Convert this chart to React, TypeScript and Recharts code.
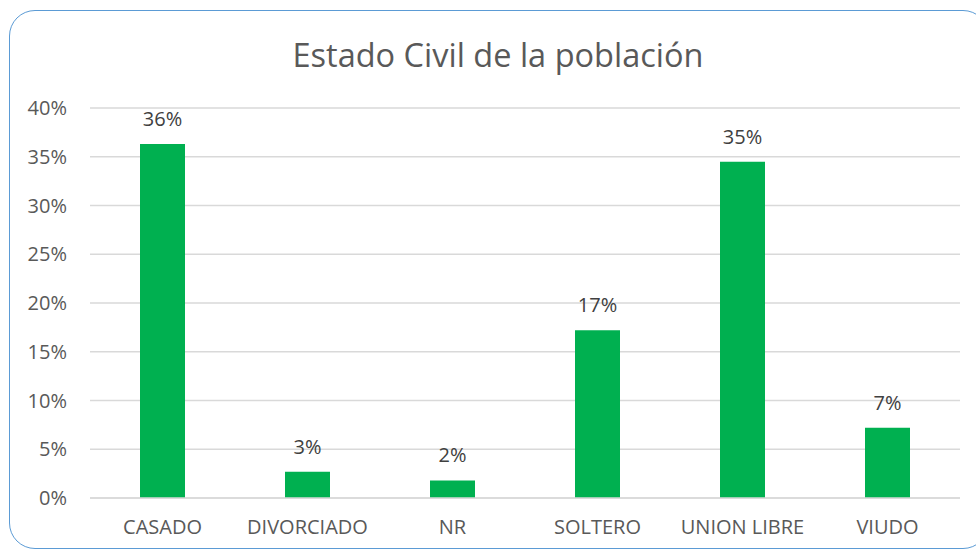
import React from 'react'
import { BarChart, Bar, XAxis, YAxis, CartesianGrid, LabelList } from 'recharts'

const categories = ['CASADO', 'DIVORCIADO', 'NR', 'SOLTERO', 'UNION LIBRE', 'VIUDO']
const shares = [0.363, 0.027, 0.018, 0.172, 0.345, 0.072]
const yTicks = [0, 0.05, 0.1, 0.15, 0.2, 0.25, 0.3, 0.35, 0.4]

const data = categories.map((name, i) => ({ name, value: shares[i] }))

const pct = (v: number) => `${Math.round(v * 100)}%`

const FONT = '"Open Sans", "Noto Sans", sans-serif'

export default function App() {
  return (
    <div style={{ position: 'fixed', left: 0, top: 0, width: 976, height: 554, background: '#fff', fontFamily: FONT }}>
      <div
        style={{
          position: 'absolute',
          left: 9,
          top: 10,
          width: 980,
          height: 539,
          border: '1.5px solid #5B9BD5',
          borderRadius: 26,
          boxSizing: 'border-box',
        }}
      />
      <div
        style={{
          position: 'absolute',
          left: 0,
          width: 996,
          top: 34,
          textAlign: 'center',
          fontSize: 32.5,
          color: '#595959',
          lineHeight: '42px',
        }}
      >
        Estado Civil de la población
      </div>
      <div style={{ position: 'absolute', left: 0, top: 0 }}>
        <BarChart width={976} height={554} data={data} margin={{ top: 108, right: 16, left: 30, bottom: 0 }} barSize={45}>
          <CartesianGrid vertical={false} stroke="#D9D9D9" strokeWidth={1.5} />
          <XAxis
            dataKey="name"
            height={56}
            tickLine={false}
            axisLine={{ stroke: '#D9D9D9', strokeWidth: 1.5 }}
            tickSize={0}
            tickMargin={22}
            tick={{ fill: '#595959', fontSize: 20, fontFamily: FONT }}
          />
          <YAxis
            width={60}
            domain={[0, 0.4]}
            ticks={yTicks}
            tickFormatter={pct}
            tickLine={false}
            axisLine={false}
            tickSize={0}
            tickMargin={23}
            tick={{ fill: '#595959', fontSize: 20, fontFamily: FONT }}
          />
          <Bar dataKey="value" fill="#00B050" isAnimationActive={false}>
            <LabelList dataKey="value" position="top" offset={18} formatter={(v: any) => pct(Number(v))} fill="#404040" fontSize={20} fontFamily={FONT} />
          </Bar>
        </BarChart>
      </div>
    </div>
  )
}
